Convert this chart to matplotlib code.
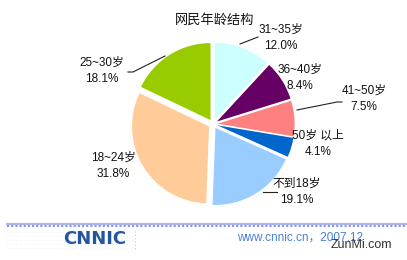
import matplotlib
matplotlib.use('Agg')
import matplotlib.pyplot as plt

plt.rcParams['font.family'] = ['Liberation Sans', 'Noto Sans CJK SC', 'DejaVu Sans']

title = '网民年龄结构'
age_groups = ['31~35岁', '36~40岁', '41~50岁', '50岁 以上', '不到18岁', '18~24岁', '25~30岁']
shares = [12.0, 8.4, 7.5, 4.1, 19.1, 31.8, 18.1]
colors = ['#ccffff', '#660066', '#ff8080', '#0066cc', '#99ccff', '#ffcc99', '#99cc00']

# label centres in pixels (x, y of first line)
label_pos = [(281, 30), (300, 70), (364, 91), (318, 136), (297, 184), (113, 158), (102, 63)]
leaders = [
    [(240, 44), (258, 37)],
    [(297, 110), (337, 102), (342, 102)],
    [(263, 192), (277, 192)],
    [(128, 72), (133, 72), (165, 56)],
]

W, H = 407, 260
fig = plt.figure(figsize=(W / 100, H / 100), dpi=100)
fig.patch.set_facecolor('white')

# pie axes: centre (213,124), 77 px per unit
cx, cy, unit = 213, 124, 77
half = 1.25 * unit
ax = fig.add_axes([(cx - half) / W, (H - cy - half) / H, 2 * half / W, 2 * half / H])
ax.pie(shares, colors=colors, startangle=90, counterclock=False,
       explode=[0.06] * len(shares), wedgeprops=dict(linewidth=0))
ax.set_xlim(-1.25, 1.25)
ax.set_ylim(-1.25, 1.25)
ax.set_aspect('equal')
ax.axis('off')

# overlay in pixel coordinates for text, leaders and footer
ov = fig.add_axes([0, 0, 1, 1], zorder=5)
ov.set_xlim(0, W)
ov.set_ylim(H, 0)
ov.axis('off')
ov.patch.set_alpha(0)

ov.text(215, 20, title, ha='center', va='center', fontsize=9.5, color='#111111')

for name, val, (x, y) in zip(age_groups, shares, label_pos):
    ov.text(x, y, name, ha='center', va='center', fontsize=8.5, color='#111111')
    ov.text(x, y + 16, f'{val:.1f}%', ha='center', va='center', fontsize=8.5, color='#111111')

for pts in leaders:
    xs, ys = zip(*pts)
    ov.plot(xs, ys, color='#222222', lw=0.8)

# footer band
ov.plot([7, W], [223.5, 223.5], color='#aab4ee', lw=1.5)
ov.plot([7, W], [226, 226], color='#8a96e0', lw=1.5, ls=(0, (1, 1)))
ov.plot([135, 135], [231, 251], color='#c8c8d8', lw=0.8, ls=(0, (1, 2)))
for yy in range(232, 252, 4):
    ov.plot([7, 133], [yy, yy], color='#e2e2ea', lw=0.5, ls=(0, (1, 3)))

ov.text(95, 239, 'CNNIC', ha='center', va='center', fontsize=13, fontweight='bold',
        color='#2255a4', family=['DejaVu Sans'])
ov.text(237, 238, 'www.cnnic.cn，2007.12', ha='left', va='center', fontsize=8.5,
        color='#4a80d4')
# watermark sits over the date, as in the reference
ov.text(331, 245, 'ZunMi.com', ha='left', va='center', fontsize=9, color='#333333')

fig.savefig('out.png', dpi=100)
